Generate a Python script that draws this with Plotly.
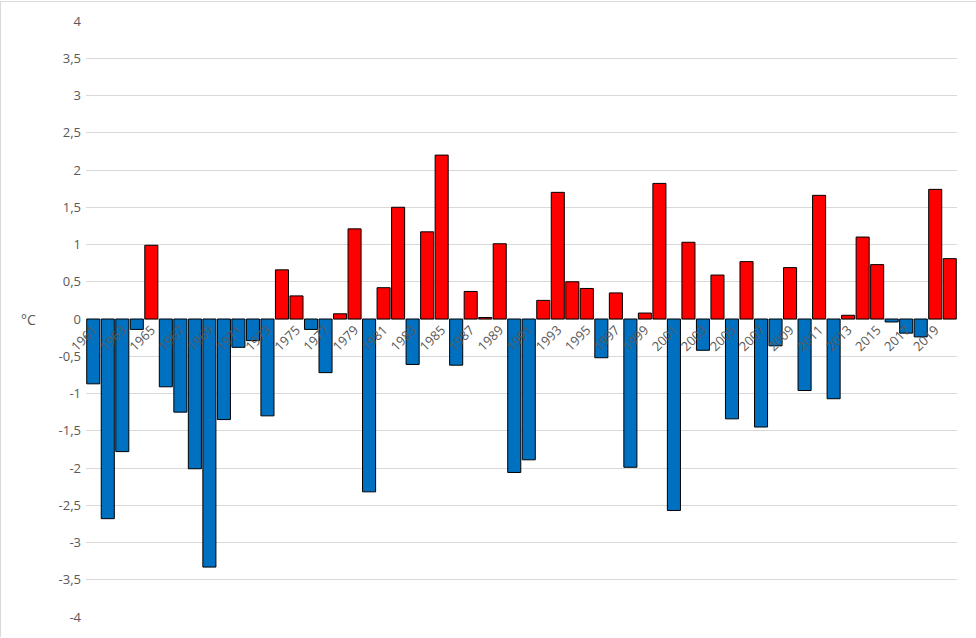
import plotly.graph_objects as go

# === DATOS ===
years = list(range(1961, 2021))
anomalies = [
    -0.87, -2.68, -1.78, -0.14, 0.99, -0.91, -1.25, -2.01, -3.33, -1.35,
    -0.38, -0.29, -1.30, 0.66, 0.31, -0.14, -0.72, 0.07, 1.21, -2.32,
    0.42, 1.50, -0.61, 1.17, 2.20, -0.62, 0.37, 0.02, 1.01, -2.06,
    -1.89, 0.25, 1.70, 0.50, 0.41, -0.52, 0.35, -1.99, 0.08, 1.82,
    -2.57, 1.03, -0.42, 0.59, -1.34, 0.77, -1.45, -0.36, 0.69, -0.96,
    1.66, -1.07, 0.05, 1.10, 0.73, -0.04, -0.19, -0.24, 1.74, 0.81,
]
x_ticks = list(range(1961, 2021, 2))
y_ticks = [-4, -3.5, -3, -2.5, -2, -1.5, -1, -0.5, 0, 0.5, 1, 1.5, 2, 2.5, 3, 3.5, 4]
y_labels = [f"{v:g}".replace('.', ',') for v in y_ticks]

colors = ['#FF0000' if v >= 0 else '#0070C0' for v in anomalies]

W, H = 976, 638
ML, MR, MT, MB = 86, 19, 20, 20
pw, ph = W - ML - MR, H - MT - MB

fig = go.Figure()
fig.add_trace(go.Bar(
    x=years, y=anomalies,
    marker=dict(color=colors, line=dict(color='black', width=1)),
    showlegend=False,
))

fig.update_layout(
    width=W, height=H,
    margin=dict(l=ML, r=MR, t=MT, b=MB),
    plot_bgcolor='white', paper_bgcolor='white',
    bargap=0.1,
    font=dict(family='Open Sans, DejaVu Sans', size=12, color='#595959'),
    xaxis=dict(
        range=[1960.5, 2020.5],
        anchor='free', position=0.5,
        tickvals=x_ticks, ticktext=[str(y) for y in x_ticks],
        tickangle=-45, showgrid=False, zeroline=False, showline=False,
        ticks='', tickfont=dict(size=13, color='#595959'),
    ),
    yaxis=dict(
        range=[-4, 4],
        tickvals=y_ticks, ticktext=y_labels,
        showgrid=True, gridcolor='#d9d9d9', gridwidth=1,
        zeroline=False, showline=False, ticks='',
        ticklabelstandoff=4,
        tickfont=dict(size=13, color='#595959'),
    ),
    annotations=[dict(
        text='°C', xref='paper', yref='paper',
        x=(28 - ML) / pw, y=0.5, xanchor='center', yanchor='middle',
        showarrow=False, font=dict(size=14, color='#595959'),
    )],
    shapes=[
        dict(type='line', xref='paper', yref='paper',
             x0=-ML / pw + 0.5 / pw, x1=-ML / pw + 0.5 / pw,
             y0=-MB / ph, y1=1 + MT / ph,
             line=dict(color='#d9d9d9', width=1)),
        dict(type='line', xref='paper', yref='paper',
             x0=-ML / pw, x1=1 + MR / pw,
             y0=1 + MT / ph - 0.5 / ph, y1=1 + MT / ph - 0.5 / ph,
             line=dict(color='#d9d9d9', width=1)),
    ],
)

# quitar el margen del body para que encaje en la ventana
fig.write_html("out.html", config={'displayModeBar': False},
               post_script="document.body.style.margin='0';")
